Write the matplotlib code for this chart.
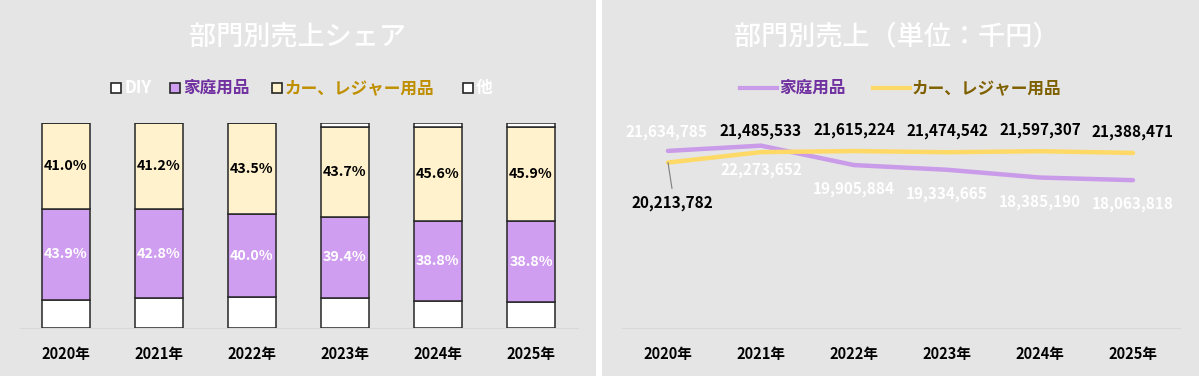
import numpy as np
import matplotlib
matplotlib.use('Agg')
import matplotlib.pyplot as plt
from matplotlib.patches import Rectangle
from matplotlib.lines import Line2D

plt.rcParams['font.family'] = ['Noto Sans CJK JP', 'DejaVu Sans']

years = ['2020年', '2021年', '2022年', '2023年', '2024年', '2025年']
diy_share = [13.7, 14.4, 14.9, 14.9, 13.5, 12.9]
home_share = [43.9, 42.8, 40.0, 39.4, 38.8, 38.8]
car_share = [41.0, 41.2, 43.5, 43.7, 45.6, 45.9]
other_share = [0.0, 0.0, 0.0, 1.6, 1.9, 1.6]

home_sales = [21634785, 22273652, 19905884, 19334665, 18385190, 18063818]
car_sales = [20213782, 21485533, 21615224, 21474542, 21597307, 21388471]

W, H = 1199, 376
BG = '#e5e5e5'
PURPLE = '#d09ef0'
CREAM = '#fff2cc'
LINE_PURPLE = '#c99be8'
LINE_YELLOW = '#ffd966'
EDGE = '#262626'

fig = plt.figure(figsize=(W / 100, H / 100), dpi=100, facecolor='white')

# overlay in pixel coords for panel backgrounds, titles and legends
ov = fig.add_axes([0, 0, 1, 1])
ov.set_xlim(0, W)
ov.set_ylim(H, 0)
ov.axis('off')
ov.set_zorder(0)
ov.add_patch(Rectangle((0, 0), 596, H, color=BG, lw=0))
ov.add_patch(Rectangle((602, 0), W - 602, H, color=BG, lw=0))

ov.text(298, 37, '部門別売上シェア', color='white', fontsize=19.5,
        fontweight='medium', ha='center', va='center')
ov.text(897, 37, '部門別売上（単位：千円）', color='white', fontsize=19.5,
        fontweight='medium', ha='center', va='center')

# left legend
leg_items = [('DIY', 'white', 'white', 111),
             ('家庭用品', PURPLE, '#7030a0', 170),
             ('カー、レジャー用品', CREAM, '#bf8f00', 272),
             ('他', 'white', 'white', 463)]
for label, fc, tc, x0 in leg_items:
    ov.add_patch(Rectangle((x0, 83), 10, 10, facecolor=fc, edgecolor=EDGE, lw=1.2))
    ov.text(x0 + 13, 88, label, color=tc, fontsize=12, fontweight='bold',
            ha='left', va='center')

# right legend
for label, lc, tc, x0 in [('家庭用品', LINE_PURPLE, '#7030a0', 740),
                          ('カー、レジャー用品', LINE_YELLOW, '#7f6000', 873)]:
    ov.add_line(Line2D([x0, x0 + 37], [88, 88], color=lc, lw=3))
    ov.text(x0 + 39, 88, label, color=tc, fontsize=12, fontweight='bold',
            ha='left', va='center')


def axes_rect(left, right, top, bottom):
    return [left / W, 1 - bottom / H, (right - left) / W, (bottom - top) / H]


# ---- left: 100% stacked bars
ax1 = fig.add_axes(axes_rect(19.5, 577.5, 123.3, 328.3))
ax1.set_zorder(1)
ax1.patch.set_alpha(0)
x = np.arange(len(years))
shares = np.array([diy_share, home_share, car_share, other_share])
shares = shares / shares.sum(axis=0) * 100
colors = ['white', PURPLE, CREAM, 'white']
bottom = np.zeros(len(years))
for vals, c in zip(shares, colors):
    ax1.bar(x, vals, bottom=bottom, width=0.52, color=c, edgecolor=EDGE, lw=1.1)
    bottom += vals

home_mid = shares[0] + shares[1] / 2
car_mid = shares[0] + shares[1] + shares[2] / 2
for i in range(len(years)):
    ax1.text(x[i], home_mid[i], f'{home_share[i]:.1f}%', color='white',
             fontsize=10.3, fontweight='bold', ha='center', va='center')
    ax1.text(x[i], car_mid[i], f'{car_share[i]:.1f}%', color='black',
             fontsize=10.3, fontweight='bold', ha='center', va='center')

ax1.set_xlim(-0.5, 5.5)
ax1.set_ylim(0, 100)
ax1.set_xticks(x)
ax1.set_xticklabels(years, fontsize=10.5, fontweight='bold')
ax1.tick_params(axis='x', length=0, pad=13)
ax1.set_yticks([])
for s in ['top', 'right', 'left']:
    ax1.spines[s].set_visible(False)
ax1.spines['bottom'].set_color('#d8d8d8')
ax1.spines['bottom'].set_zorder(0)

# ---- right: line chart
ax2 = fig.add_axes(axes_rect(621.5, 1179.5, 123.3, 328.3))
ax2.set_zorder(1)
ax2.patch.set_alpha(0)
ax2.plot(x, home_sales, color=LINE_PURPLE, lw=3.2, solid_capstyle='round')
ax2.plot(x, car_sales, color=LINE_YELLOW, lw=3.2, solid_capstyle='round')

for i in range(len(years)):
    # home sales labels (white)
    dy = 19 if i == 0 else -24
    ax2.annotate(f'{home_sales[i]:,}', (x[i], home_sales[i]), xytext=(-2 if i == 0 else 0, dy),
                 textcoords='offset pixels', ha='center', va='center',
                 color='white', fontsize=11, fontweight='bold')
    # car sales labels (black)
    if i == 0:
        ax2.annotate(f'{car_sales[i]:,}', (x[i], car_sales[i]), xytext=(4, -40),
                     textcoords='offset pixels', ha='center', va='center',
                     color='black', fontsize=11, fontweight='bold')
    else:
        ax2.annotate(f'{car_sales[i]:,}', (x[i], car_sales[i]), xytext=(0, 21),
                     textcoords='offset pixels', ha='center', va='center',
                     color='black', fontsize=11, fontweight='bold')

# leader line for the 2020 car label
ax2.annotate('', (x[0], car_sales[0]), xytext=(4, -26), textcoords='offset pixels',
             arrowprops=dict(arrowstyle='-', color='#7f7f7f', lw=0.8,
                             shrinkA=0, shrinkB=0))

ax2.set_xlim(-0.5, 5.5)
ax2.set_ylim(0, 25000000)
ax2.set_xticks(x)
ax2.set_xticklabels(years, fontsize=10.5, fontweight='bold')
ax2.tick_params(axis='x', length=0, pad=13)
ax2.set_yticks([])
for s in ['top', 'right', 'left']:
    ax2.spines[s].set_visible(False)
ax2.spines['bottom'].set_color('#d8d8d8')

fig.savefig('out.png', dpi=100, facecolor='white')
